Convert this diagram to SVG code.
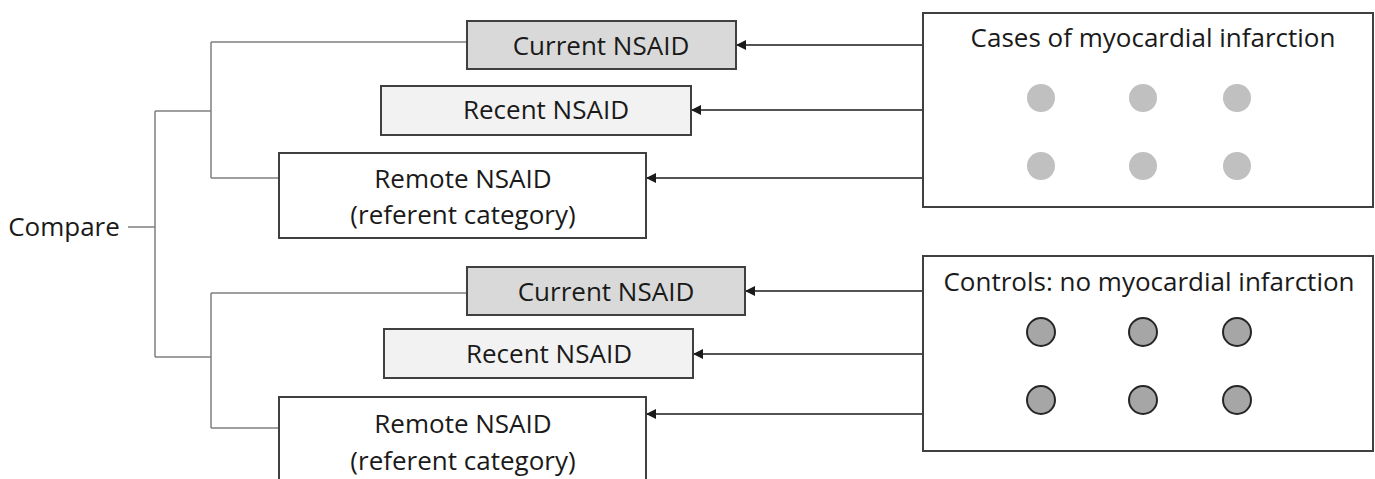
<svg xmlns="http://www.w3.org/2000/svg" width="1375" height="479" viewBox="0 0 1375 479">
  <style>
    .box { stroke: #404040; stroke-width: 2; }
    .dark { fill: #d9d9d9; }
    .light { fill: #f2f2f2; }
    .plain { fill: #ffffff; }
    .lbl { font-family: "Open Sans", "Liberation Sans", sans-serif; font-size: 26px; fill: #1a1a1a; text-anchor: middle; }
    .tree { fill: none; stroke: #808080; stroke-width: 1.5; }
    .arrow { fill: none; stroke: #1a1a1a; stroke-width: 1.6; marker-end: url(#head); }
    .case { fill: #c0c0c0; }
    .ctrl { fill: #a6a6a6; stroke: #262626; stroke-width: 2; }
  </style>
  <defs>
    <marker id="head" markerWidth="10" markerHeight="10" refX="9" refY="5" orient="auto" markerUnits="userSpaceOnUse">
      <path d="M0,0 L10,5 L0,10 Z" fill="#1a1a1a"/>
    </marker>
  </defs>
  <rect width="1375" height="479" fill="#ffffff"/>

  <!-- comparison tree -->
  <g id="connectors">
    <path class="tree" d="M128,227 H155 M155,111 V357 M155,111 H211 M211,42 V178 M211,42 H467 M211,178 H279"/>
    <path class="tree" d="M155,357 H211 M211,293 V428 M211,293 H467 M211,428 H279"/>
    <path class="arrow" d="M923,45 H737"/>
    <path class="arrow" d="M923,110 H692"/>
    <path class="arrow" d="M923,178 H647"/>
    <path class="arrow" d="M923,291 H746"/>
    <path class="arrow" d="M923,354 H694"/>
    <path class="arrow" d="M923,414 H647"/>
  </g>

  <g id="compare">
    <text class="lbl" x="64" y="236">Compare</text>
  </g>

  <!-- case exposure groups -->
  <g id="case-current">
    <rect class="box dark" x="467" y="21" width="269" height="48"/>
    <text class="lbl" x="601" y="55">Current NSAID</text>
  </g>
  <g id="case-recent">
    <rect class="box light" x="381" y="86" width="310" height="49"/>
    <text class="lbl" x="546" y="119">Recent NSAID</text>
  </g>
  <g id="case-remote">
    <rect class="box plain" x="279" y="153" width="367" height="85"/>
    <text class="lbl" x="463" y="188">Remote NSAID</text>
    <text class="lbl" x="463" y="224">(referent category)</text>
  </g>

  <!-- control exposure groups -->
  <g id="control-current">
    <rect class="box dark" x="467" y="267" width="278" height="48"/>
    <text class="lbl" x="606" y="301">Current NSAID</text>
  </g>
  <g id="control-recent">
    <rect class="box light" x="384" y="329" width="309" height="49"/>
    <text class="lbl" x="549" y="363">Recent NSAID</text>
  </g>
  <g id="control-remote">
    <rect class="box plain" x="279" y="397" width="367" height="90"/>
    <text class="lbl" x="463" y="433">Remote NSAID</text>
    <text class="lbl" x="463" y="470">(referent category)</text>
  </g>

  <!-- population boxes -->
  <g id="cases">
    <rect class="box plain" x="923" y="13" width="450" height="194"/>
    <text class="lbl" x="1153" y="47">Cases of myocardial infarction</text>
    <circle class="case" cx="1041" cy="98" r="14"/>
    <circle class="case" cx="1143" cy="98" r="14"/>
    <circle class="case" cx="1237" cy="98" r="14"/>
    <circle class="case" cx="1041" cy="166" r="14"/>
    <circle class="case" cx="1143" cy="166" r="14"/>
    <circle class="case" cx="1237" cy="166" r="14"/>
  </g>
  <g id="controls">
    <rect class="box plain" x="923" y="256" width="450" height="195"/>
    <text class="lbl" x="1149" y="291">Controls: no myocardial infarction</text>
    <circle class="ctrl" cx="1041" cy="332" r="14"/>
    <circle class="ctrl" cx="1143" cy="332" r="14"/>
    <circle class="ctrl" cx="1237" cy="332" r="14"/>
    <circle class="ctrl" cx="1041" cy="400" r="14"/>
    <circle class="ctrl" cx="1143" cy="400" r="14"/>
    <circle class="ctrl" cx="1237" cy="400" r="14"/>
  </g>
</svg>
